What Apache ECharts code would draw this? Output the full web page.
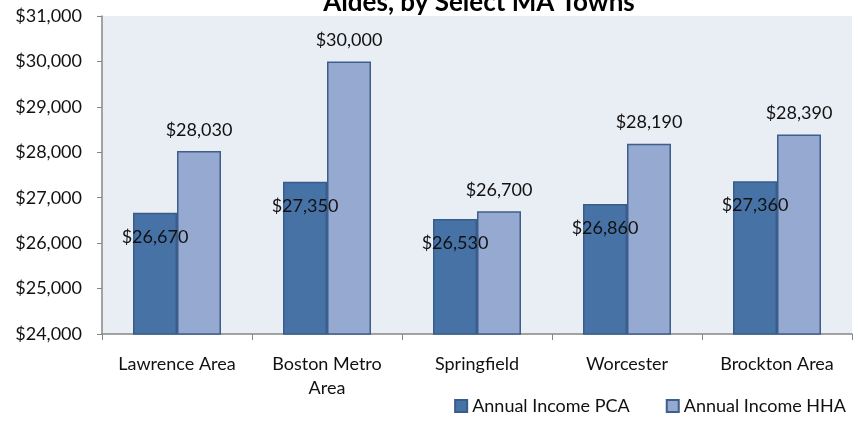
<!DOCTYPE html>
<html>
<head>
<meta charset="utf-8">
<script src="https://cdn.jsdelivr.net/npm/echarts@6/dist/echarts.min.js"></script>
<style>
  html, body { margin: 0; padding: 0; background: #fff; }
  #chart { width: 858px; height: 428px; }
</style>
</head>
<body>
<div id="chart"></div>
<script>
const towns = ['Lawrence Area', 'Boston Metro\nArea', 'Springfield', 'Worcester', 'Brockton Area'];
const incomePCA = [26670, 27350, 26530, 26860, 27360];
const incomeHHA = [28030, 30000, 26700, 28190, 28390];
const seriesNames = ['Annual Income PCA', 'Annual Income HHA'];
const yTicks = [24000, 31000, 1000];

const font = 'Lato';
const money = (v) => '$' + v.toLocaleString('en-US');

const myChart = echarts.init(document.getElementById('chart'));
const option = {
    animation: false,
    backgroundColor: '#ffffff',
    title: {
        text: 'Aides, by Select MA Towns',
        left: 474,
        textAlign: 'center',
        top: -15,
        textStyle: { fontFamily: font, fontSize: 26, fontWeight: 'bold', color: '#000' }
    },
    grid: {
        left: 102, right: 6, top: 16, bottom: 94,
        show: true, backgroundColor: '#E9EDF4', borderWidth: 0
    },
    legend: {
        data: seriesNames,
        right: 7, bottom: 8,
        itemWidth: 12, itemHeight: 12, itemGap: 36,
        icon: 'rect',
        textStyle: { fontFamily: font, fontSize: 18, color: '#111' }
    },
    xAxis: {
        type: 'category',
        data: towns,
        axisLine: { lineStyle: { color: '#868686', width: 1.5 } },
        axisTick: { show: true, alignWithLabel: false, length: 6, lineStyle: { color: '#868686' } },
        axisLabel: { interval: 0, fontFamily: font, fontSize: 18, color: '#111', margin: 18, lineHeight: 24 }
    },
    yAxis: {
        type: 'value',
        min: yTicks[0], max: yTicks[1], interval: yTicks[2],
        splitLine: { show: false },
        axisLine: { show: true, lineStyle: { color: '#868686', width: 1.5 } },
        axisTick: { show: true, length: 5, lineStyle: { color: '#868686' } },
        axisLabel: { fontFamily: font, fontSize: 18, color: '#111', margin: 20, formatter: money }
    },
    series: [{
        name: seriesNames[0],
        type: 'bar',
        data: incomePCA,
        barWidth: 44,
        barGap: '0%',
        itemStyle: { color: '#4672A6', borderColor: '#385D8A', borderWidth: 1.5 },
        label: {
            show: true, position: 'insideTop', distance: 15,
            fontFamily: font, fontSize: 18, color: '#111',
            formatter: (p) => money(p.value)
        }
    }, {
        name: seriesNames[1],
        type: 'bar',
        data: incomeHHA,
        barWidth: 44,
        itemStyle: { color: '#95A9D1', borderColor: '#3E5F8C', borderWidth: 1.5 },
        label: {
            show: true, position: 'top', distance: 12,
            fontFamily: font, fontSize: 18, color: '#111',
            formatter: (p) => money(p.value)
        }
    }]
};
myChart.setOption(option);
</script>
</body>
</html>
